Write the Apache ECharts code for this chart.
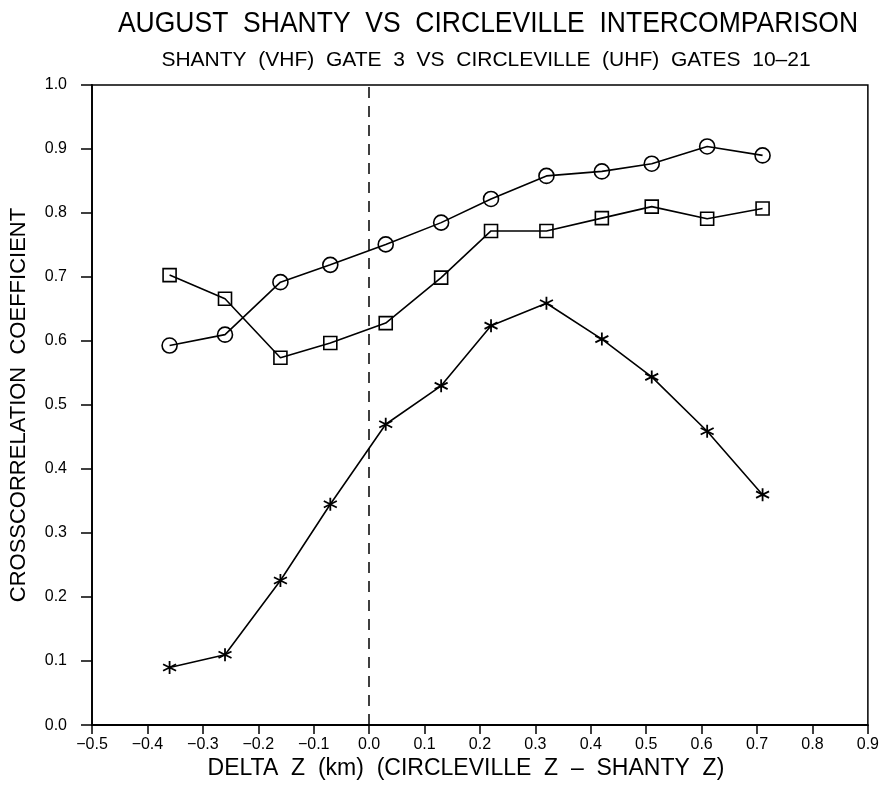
<!DOCTYPE html>
<html>
<head>
<meta charset="utf-8">
<script src="https://cdn.jsdelivr.net/npm/echarts@6/dist/echarts.min.js"></script>
<style>html,body{margin:0;padding:0;background:#fff}#c{width:882px;height:785px}</style>
</head>
<body>
<div id="c"></div>
<script>
const deltaZ = [-0.36, -0.26, -0.16, -0.07, 0.03, 0.13, 0.22, 0.32, 0.42, 0.51, 0.61, 0.71];
const circleSeries = [0.593, 0.610, 0.692, 0.719, 0.751, 0.785, 0.822, 0.858, 0.865, 0.877, 0.904, 0.890];
const squareSeries = [0.703, 0.666, 0.574, 0.597, 0.628, 0.699, 0.772, 0.772, 0.792, 0.810, 0.791, 0.807];
const starSeries = [0.090, 0.110, 0.226, 0.345, 0.470, 0.530, 0.624, 0.659, 0.603, 0.544, 0.459, 0.360];
const xTicks = [-0.5, -0.4, -0.3, -0.2, -0.1, 0.0, 0.1, 0.2, 0.3, 0.4, 0.5, 0.6, 0.7, 0.8, 0.9];
const yTicks = [0.0, 0.1, 0.2, 0.3, 0.4, 0.5, 0.6, 0.7, 0.8, 0.9, 1.0];
const titleText = 'AUGUST  SHANTY  VS  CIRCLEVILLE  INTERCOMPARISON';
const subtitleText = 'SHANTY  (VHF)  GATE  3  VS  CIRCLEVILLE  (UHF)  GATES  10–21';
const xName = 'DELTA  Z  (km)  (CIRCLEVILLE  Z  –  SHANTY  Z)';
const yName = 'CROSSCORRELATION  COEFFICIENT';

const pair = (xs, ys) => xs.map((x, i) => [x, ys[i]]);
const FONT = 'Liberation Sans';
const starPath = 'path://M0,-10L0,10M-8.66,-5L8.66,5M-8.66,5L8.66,-5';
const fmt = (ticks, v) => ticks.find(t => Math.abs(t - v) < 1e-9).toFixed(1).replace('-', '\u2212');

const chart = echarts.init(document.getElementById('c'), null, {renderer: 'canvas'});
const lineBase = {
  type: 'line',
  lineStyle: {color: '#000', width: 1.6},
  z: 3,
  animation: false
};
chart.setOption({
  backgroundColor: '#fff',
  graphic: [
    {type: 'text', x: 488, y: 24, scaleY: 1.12, style: {text: titleText, fill: '#000',
      font: '26.5px "Liberation Sans"', textAlign: 'center', textVerticalAlign: 'middle'}},
    {type: 'text', x: 486, y: 60, style: {text: subtitleText, fill: '#000',
      font: '21px "Liberation Sans"', textAlign: 'center', textVerticalAlign: 'middle'}}
  ],
  grid: {left: 92, right: 11, top: 85, bottom: 57, show: true, borderColor: '#000', borderWidth: 1.5, backgroundColor: 'transparent'},
  xAxis: {
    type: 'value', min: -0.5, max: 0.9, interval: 0.1,
    name: xName, nameLocation: 'middle', nameGap: 30,
    nameTextStyle: {fontFamily: FONT, fontSize: 23, color: '#000', padding: [0, 28, 0, 0]},
    axisLine: {show: true, onZero: false, lineStyle: {color: '#000', width: 1.8}},
    axisTick: {show: true, inside: false, length: 9, lineStyle: {color: '#000', width: 1.5}},
    axisLabel: {fontFamily: FONT, fontSize: 16, color: '#000', margin: 11,
      formatter: v => fmt(xTicks, v)},
    splitLine: {show: false}
  },
  yAxis: {
    type: 'value', min: 0, max: 1, interval: 0.1,
    name: yName, nameLocation: 'middle', nameGap: 62,
    nameTextStyle: {fontFamily: FONT, fontSize: 22, color: '#000'},
    axisLine: {show: true, onZero: false, lineStyle: {color: '#000', width: 1.8}},
    axisTick: {show: true, inside: false, length: 11, lineStyle: {color: '#000', width: 1.5}},
    axisLabel: {fontFamily: FONT, fontSize: 16, color: '#000', margin: 25,
      formatter: v => fmt(yTicks, v)},
    splitLine: {show: false}
  },
  series: [
    Object.assign({}, lineBase, {
      name: 'circle', data: pair(deltaZ, circleSeries), symbol: 'circle', symbolSize: 15,
      itemStyle: {color: 'rgba(0,0,0,0)', borderColor: '#000', borderWidth: 1.6},
      markLine: {
        silent: true, symbol: ['none', 'none'], label: {show: false},
        lineStyle: {color: '#000', width: 1.5, type: [11, 8]},
        data: [{xAxis: 0}], animation: false
      }
    }),
    Object.assign({}, lineBase, {
      name: 'square', data: pair(deltaZ, squareSeries), symbol: 'rect', symbolSize: 13,
      itemStyle: {color: 'rgba(0,0,0,0)', borderColor: '#000', borderWidth: 1.6}
    }),
    Object.assign({}, lineBase, {
      name: 'star', data: pair(deltaZ, starSeries), symbol: starPath, symbolSize: 13,
      itemStyle: {color: 'rgba(0,0,0,0)', borderColor: '#000', borderWidth: 1.8}
    })
  ]
});
</script>
</body>
</html>
